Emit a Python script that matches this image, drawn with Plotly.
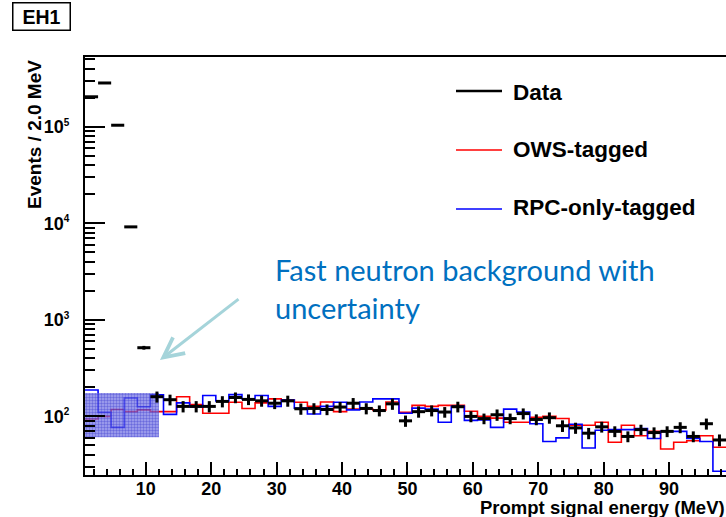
import plotly.graph_objects as go

# ---------------- data ----------------
BIN_LO = 0.7      # MeV, lower edge of first bin
BIN_W = 2.0       # MeV per bin

data_counts = [2.05e5, 2.85e5, 1.04e5, 9.2e3, 515,
               160, 149, 127, 127, 127,
               143, 157, 150, 145, 137,
               145, 120, 121, 118, 125,
               137, 121, 115, 135, 90,
               112, 115, 111, 126, 100,
               95, 104, 95, 107, 93,
               97, 80, 76, 67, 78,
               70, 62, 73, 68, 70,
               77, 62, 84, 57]
data_err = [450, 530, 320, 95, 23,
            21, 19, 17, 17, 17,
            19, 20, 19, 19, 18,
            19, 16, 16, 15, 16,
            18, 16, 15, 18, 12,
            15, 15, 14, 16, 13,
            12, 14, 12, 14, 12,
            13, 11, 10, 9, 10,
            9, 8, 9, 9, 9,
            10, 8, 11, 8]
ows_tagged = [94, 100, 118, 112, 117,
              112, 112, 160, 133, 108,
              108, 140, 121, 138, 152,
              148, 140, 127, 141, 112,
              119, 119, 117, 141, 110,
              130, 127, 130, 130, 113,
              100, 96, 87, 87, 98,
              100, 95, 81, 81, 87,
              54, 81, 63, 70, 46,
              54, 56, 63, 48]
rpc_only_tagged = [188, 110, 77, 155, 126,
                   167, 105, 138, 125, 165,
                   145, 168, 152, 165, 127,
                   148, 122, 106, 127, 140,
                   117, 141, 152, 152, 108,
                   122, 119, 87, 127, 91,
                   92, 77, 119, 111, 84,
                   55, 60, 83, 47, 72,
                   73, 73, 75, 59, 70,
                   70, 59, 55, 27]
band_x = [0.7, 12.0]          # fast-neutron uncertainty band (MeV)
band_y = [61, 175]            # band low / high (events)

y_tickvals = [1e2, 1e3, 1e4, 1e5]
y_ticktext = ["10<sup><span style='font-size:10px'>2</span></sup>",
              "10<sup><span style='font-size:10px'>3</span></sup>",
              "10<sup><span style='font-size:10px'>4</span></sup>",
              "10<sup><span style='font-size:10px'>5</span></sup>"]

legend_labels = ["Data", "OWS-tagged", "RPC-only-tagged"]
legend_colors = ["black", "rgb(255,0,0)", "rgb(0,0,255)"]

# ---------------- derived bin grid ----------------
n = len(data_counts)
edges = [BIN_LO + BIN_W * i for i in range(n + 1)]
centers = [BIN_LO + BIN_W * (i + 0.5) for i in range(n)]

# ---------------- layout geometry helpers ----------------
W, H = 726, 517
L, R, T, B = 85, 0, 57, 42
PW, PH = W - L - R, H - T - B


def px2x(px):
    return (px - L) / PW


def py2y(py):
    return (H - B - py) / PH


FONT = "Liberation Sans"

fig = go.Figure()

fig.add_trace(go.Scatter(
    x=edges, y=ows_tagged + [ows_tagged[-1]], mode="lines",
    line=dict(color="rgb(255,0,0)", width=1.6, shape="hv"),
    showlegend=False, hoverinfo="skip"))
fig.add_trace(go.Scatter(
    x=edges, y=rpc_only_tagged + [rpc_only_tagged[-1]], mode="lines",
    line=dict(color="rgb(0,0,255)", width=1.6, shape="hv"),
    showlegend=False, hoverinfo="skip"))

# uncertainty band
fig.add_trace(go.Scatter(
    x=[band_x[0], band_x[1], band_x[1], band_x[0], band_x[0]],
    y=[band_y[0], band_y[0], band_y[1], band_y[1], band_y[0]],
    mode="lines", fill="toself", line=dict(width=0),
    fillcolor="rgba(100,100,220,0.65)",
    fillpattern=dict(shape=".", fgcolor="rgba(30,30,200,0.9)",
                     bgcolor="rgba(120,120,230,0.65)", size=3, solidity=0.5),
    showlegend=False, hoverinfo="skip"))

# data points with error bars
fig.add_trace(go.Scatter(
    x=centers, y=data_counts, mode="markers",
    marker=dict(size=1, color="black"),
    error_x=dict(type="constant", value=BIN_W / 2, thickness=3, width=0, color="black"),
    error_y=dict(type="data", array=data_err, thickness=3, width=0, color="black"),
    showlegend=False))

fig.update_layout(
    width=W, height=H,
    margin=dict(l=L, r=R, t=T, b=B),
    paper_bgcolor="white", plot_bgcolor="white",
    showlegend=False,
    xaxis=dict(
        range=[BIN_LO, BIN_LO + BIN_W * n], showgrid=False, zeroline=False,
        showline=True, linecolor="black", linewidth=2, mirror=True,
        ticks="inside", ticklen=13, tickwidth=1.5, tickcolor="black",
        tick0=0, dtick=10,
        minor=dict(ticks="inside", ticklen=6.5, tickwidth=1.5, tickcolor="black",
                   tick0=0, dtick=2, showgrid=False),
        tickfont=dict(family=FONT, size=18, color="black", weight="bold"),
        ticklabelstandoff=-4,
    ),
    yaxis=dict(
        type="log", range=[1.393, 5.724], showgrid=False, zeroline=False,
        showline=True, linecolor="black", linewidth=2,
        ticks="inside", ticklen=20, tickwidth=1.5, tickcolor="black",
        tickmode="array", tickvals=y_tickvals, ticktext=y_ticktext,
        minor=dict(ticks="inside", ticklen=10, tickwidth=1.5, tickcolor="black",
                   dtick="D1", showgrid=False),
        tickfont=dict(family=FONT, size=18, color="black", weight="bold"),
        ticklabelstandoff=10,
    ),
)

annotations = []
# y-axis title
annotations.append(dict(
    text="Events / 2.0 MeV", textangle=-90, xref="paper", yref="paper",
    x=px2x(34), y=py2y(135), xanchor="center", yanchor="middle", showarrow=False,
    font=dict(family=FONT, size=19, color="black", weight="bold")))
# x-axis title
annotations.append(dict(
    text="Prompt signal energy (MeV)", xref="paper", yref="paper",
    x=px2x(727), y=py2y(507), xanchor="right", yanchor="middle", showarrow=False,
    font=dict(family=FONT, size=18.5, color="black", weight="bold")))
# EH1 label box
annotations.append(dict(
    text="EH1", xref="paper", yref="paper", x=px2x(41), y=py2y(17),
    xanchor="center", yanchor="middle", showarrow=False,
    width=54, height=24, bordercolor="black", borderwidth=1.5, borderpad=1,
    bgcolor="white", font=dict(family=FONT, size=19.5, color="black", weight="bold")))
# legend entries
legend_rows = [91, 150, 209]
legend_text_rows = [92, 149, 207]
for lab, yy in zip(legend_labels, legend_text_rows):
    annotations.append(dict(
        text=lab, xref="paper", yref="paper", x=px2x(511), y=py2y(yy),
        xanchor="left", yanchor="middle", showarrow=False,
        font=dict(family=FONT, size=22.5, color="black", weight="bold")))
# callout text
annotations.append(dict(
    text="Fast neutron background with<br>uncertainty", xref="paper", yref="paper",
    x=px2x(273), y=py2y(288), xanchor="left", yanchor="middle", align="left",
    showarrow=False, font=dict(family="Lato", size=29, color="rgb(0,112,192)")))
# arrow
annotations.append(dict(
    text="", xref="paper", yref="paper", x=px2x(160), y=py2y(360),
    ax=80, ay=-62, showarrow=True, arrowhead=5, arrowsize=1.3, arrowwidth=3,
    arrowcolor="rgb(165,212,218)"))
fig.update_layout(annotations=annotations)

shapes = []
for col, yy, wdt in zip(legend_colors, legend_rows, [2.5, 1.6, 1.6]):
    shapes.append(dict(type="line", xref="paper", yref="paper",
                       x0=px2x(456), x1=px2x(502), y0=py2y(yy), y1=py2y(yy),
                       line=dict(color=col, width=wdt)))
fig.update_layout(shapes=shapes)

fig.write_html("out.html")
